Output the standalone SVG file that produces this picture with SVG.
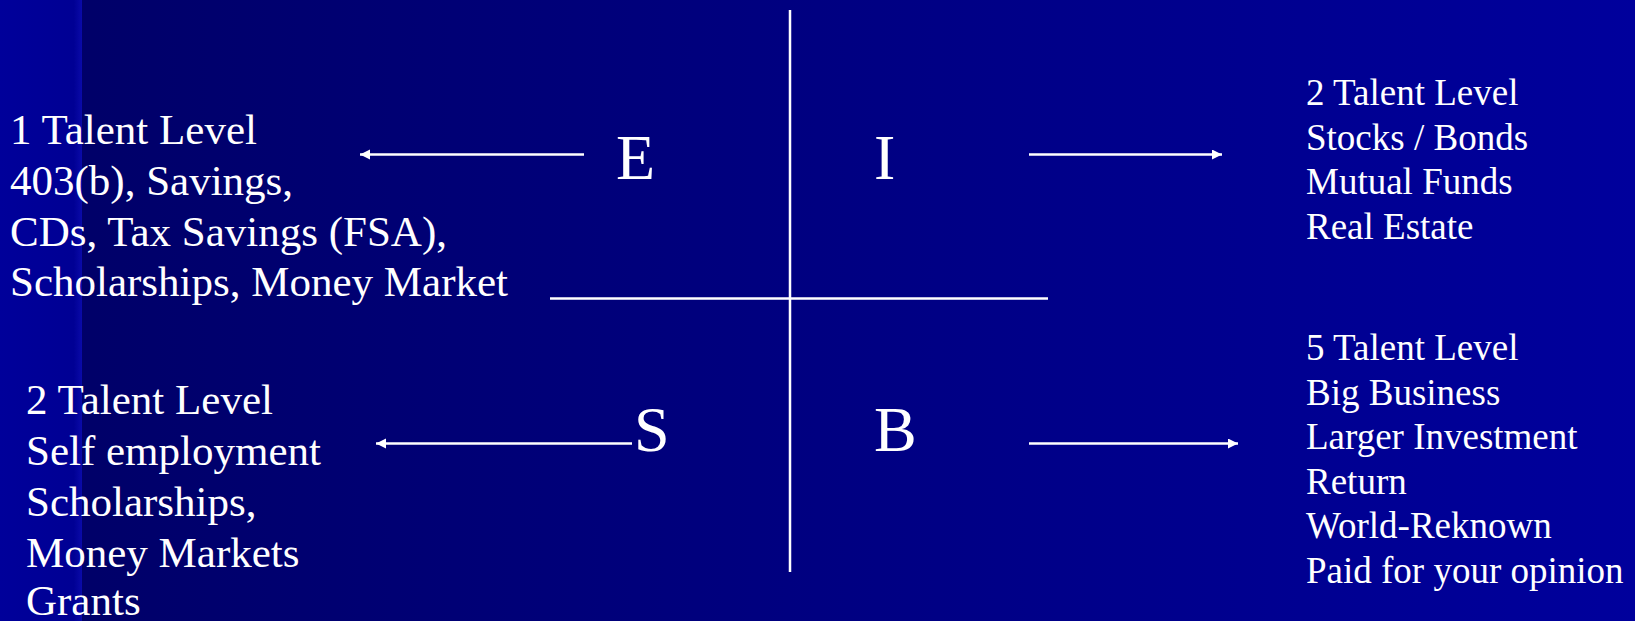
<svg xmlns="http://www.w3.org/2000/svg" width="1635" height="621" viewBox="0 0 1635 621">
<style>
.t{font-family:"Liberation Serif","Times New Roman",serif;fill:#fff}
.big{font-size:64px}
.lt{font-size:43px}
.rt{font-size:37px}
.ln{stroke:#fff;stroke-width:2.5;fill:none}
.ar{stroke:#fff;stroke-width:2.5;fill:none;marker-end:url(#ah)}
</style>
<defs>
<linearGradient id="bg" x1="0" y1="0" x2="1" y2="0">
<stop offset="0" stop-color="#000066"/>
<stop offset="1" stop-color="#00009c"/>
</linearGradient>
<linearGradient id="st" x1="0" y1="0" x2="1" y2="0">
<stop offset="0" stop-color="#00009a"/>
<stop offset="0.9" stop-color="#000094"/>
<stop offset="1" stop-color="#0a0aa8"/>
</linearGradient>
<marker id="ah" markerUnits="userSpaceOnUse" markerWidth="12" markerHeight="12" refX="10" refY="5" orient="auto">
<path d="M0,0 L10,5 L0,10 Z" fill="#fff"/>
</marker>
</defs>
<rect x="0" y="0" width="1635" height="621" fill="url(#bg)"/>
<rect x="0" y="0" width="82" height="621" fill="url(#st)"/>
<g id="connectors">
<line class="ln" x1="790" y1="10" x2="790" y2="572"/>
<line class="ln" x1="550" y1="298.5" x2="1048" y2="298.5"/>
<line class="ar" x1="584" y1="154.5" x2="360" y2="154.5"/>
<line class="ar" x1="1029" y1="154.5" x2="1222" y2="154.5"/>
<line class="ar" x1="632" y1="443.5" x2="376" y2="443.5"/>
<line class="ar" x1="1029" y1="443.5" x2="1238" y2="443.5"/>
</g>
<g id="E"><text class="t big" x="616" y="179">E</text></g>
<g id="I"><text class="t big" x="874" y="178.5">I</text></g>
<g id="S"><text class="t big" x="634" y="451">S</text></g>
<g id="B"><text class="t big" x="874" y="451">B</text></g>
<g id="e-list">
<text class="t lt" x="10" y="143.5">1 Talent Level</text>
<text class="t lt" x="10" y="194.5">403(b), Savings,</text>
<text class="t lt" x="10" y="245.5">CDs, Tax Savings (FSA),</text>
<text class="t lt" x="10" y="296">Scholarships, Money Market</text>
</g>
<g id="i-list">
<text class="t rt" x="1306" y="105">2 Talent Level</text>
<text class="t rt" x="1306" y="149.5">Stocks / Bonds</text>
<text class="t rt" x="1306" y="194">Mutual Funds</text>
<text class="t rt" x="1306" y="238.5">Real Estate</text>
</g>
<g id="s-list">
<text class="t lt" x="26" y="413.5">2 Talent Level</text>
<text class="t lt" x="26" y="464.5">Self employment</text>
<text class="t lt" x="26" y="515.5">Scholarships,</text>
<text class="t lt" x="26" y="566.5">Money Markets</text>
<text class="t lt" x="26" y="615">Grants</text>
</g>
<g id="b-list">
<text class="t rt" x="1306" y="360">5 Talent Level</text>
<text class="t rt" x="1306" y="404.5">Big Business</text>
<text class="t rt" x="1306" y="449">Larger Investment</text>
<text class="t rt" x="1306" y="493.5">Return</text>
<text class="t rt" x="1306" y="538">World-Reknown</text>
<text class="t rt" x="1306" y="582.5">Paid for your opinion</text>
</g>
</svg>
